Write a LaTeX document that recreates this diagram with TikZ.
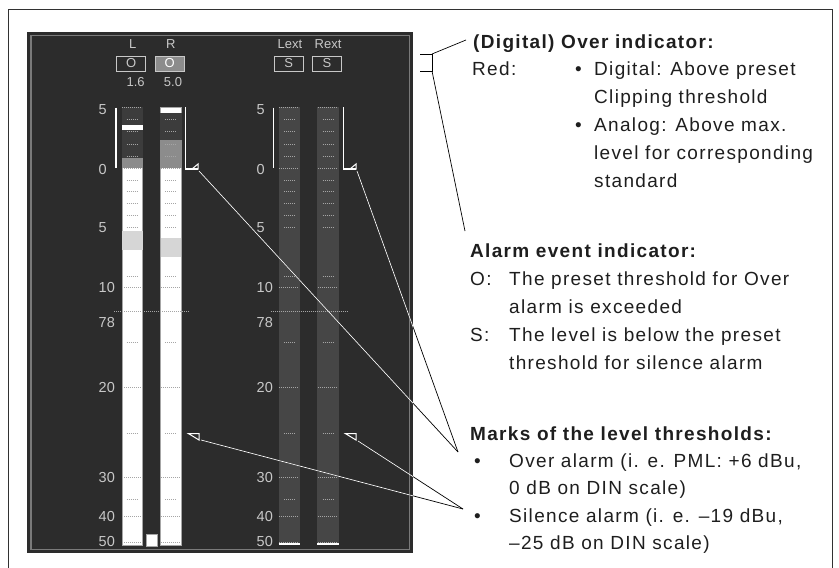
\documentclass[tikz,border=0pt]{standalone}
\usepackage{fontspec}
\setmainfont{Liberation Sans}[LetterSpace=7]
\newfontfamily\scrfont{Liberation Sans}
\definecolor{screen}{RGB}{44,44,44}
\definecolor{rim}{RGB}{122,122,122}
\definecolor{bardark}{RGB}{60,60,60}
\definecolor{barext}{RGB}{70,70,70}
\definecolor{overgray}{RGB}{140,140,140}
\definecolor{patch}{RGB}{214,214,214}
\definecolor{scaletxt}{RGB}{200,200,200}
\definecolor{tickgray}{RGB}{165,165,165}
\definecolor{frame}{RGB}{50,50,50}
\definecolor{ink}{RGB}{30,30,30}

\begin{document}
\begin{tikzpicture}[x=1pt,y=-1pt,
  txt/.style={anchor=base west,inner sep=0pt,text=ink,font=\fontsize{19}{23}\selectfont},
  hdr/.style={txt,font=\fontsize{19}{23}\selectfont\bfseries},
  scl/.style={anchor=west,inner sep=0pt,text=scaletxt,font=\scrfont\fontsize{14.5}{14}\selectfont},
  chan/.style={inner sep=0pt,text=scaletxt,font=\scrfont\fontsize{13}{13}\selectfont},
  ind/.style={draw=scaletxt,line width=1pt,minimum width=29pt,minimum height=15pt,inner sep=0pt,text=scaletxt,font=\scrfont\fontsize{13}{13}\selectfont},
  dottick/.style={tickgray,line width=0.8pt,dash pattern=on 1pt off 1pt},
  markline/.style={white,line width=1.5pt},
  lead/.style={line width=0.7pt}]
\useasboundingbox (0,0) rectangle (839,568);
\draw[frame,line width=0.8pt] (8,570) -- (8,9) -- (832,9) -- (832,570);

\fill[screen] (27,32) rectangle (413,553);
\draw[rim,line width=1.5pt] (31,35.5) rectangle (409.5,549.5);

\fill[white,draw=gray!70] (122,107.3) rectangle (142.5,545);
\fill[bardark] (122,107.3) rectangle (142.5,158.3);
\fill[overgray] (122,158.3) rectangle (142.5,168.3);
\fill[white] (122,125) rectangle (142.5,129.5);
\fill[patch] (122,230.7) rectangle (142.5,250);
\fill[white,draw=gray!70] (160,107.3) rectangle (181.5,545);
\fill[bardark] (160,113.3) rectangle (181.5,140);
\fill[overgray] (160,140) rectangle (181.5,168.3);
\fill[patch] (161,237.7) rectangle (180.5,257.3);
\fill[barext] (278.7,107.3) rectangle (300,545);
\fill[barext] (317.3,107.3) rectangle (338.7,545);
\fill[white,draw=gray!70] (145.7,534) rectangle (157.3,546);

\foreach \cx in {132.2,170.8,289.3,328} {
  \foreach \y in {119.3,131.7,144,156,180,191.7,203.3,215.7,227.7,276.7,342.3,433.3,499.3}
    \draw[dottick] (\cx-5.5,\y) -- (\cx+5.5,\y);
  \foreach \y in {107.3,168.3,287.3,387.3,477.3,516.7,542.7}
    \draw[dottick] (\cx-10,\y) -- (\cx+10,\y);
}
\draw[dottick] (114,311.7) -- (190,311.7);
\draw[dottick] (270.7,311.7) -- (347.3,311.7);
\draw[markline] (278.7,544) -- (300,544);
\draw[markline] (317.3,544) -- (338.7,544);

\foreach \sx/\g in {98.5/a,256.5/b} {
  \foreach \v/\y in {5/110,0/170,5/227.7,10/287.3,78/322.7,20/387.3,30/477.3,40/516.7,50/541.7}
    \node[scl] (s\g\v\y) at (\sx,\y) {\v};
}

\node[chan] (labL) at (132.7,44) {L};
\node[chan] (labR) at (170.7,44) {R};
\node[chan] (labLx) at (290,44) {Lext};
\node[chan] (labRx) at (328,44) {Rext};
\node[ind] (indL) at (131.3,63.5) {O};
\node[ind,fill=overgray,text=white] (indR) at (169.7,63.5) {O};
\node[ind] (indLx) at (288.7,63.5) {S};
\node[ind] (indRx) at (327,63.5) {S};
\node[chan] (valL) at (135.6,82) {1.6};
\node[chan] (valR) at (173,82) {5.0};

\draw[markline] (116,107.7) -- (116,168.3);
\draw[markline] (185.7,107.3) -- (185.7,169) -- (198,169);
\draw[white,line width=1pt] (192,169) -- (198,164) -- (198,169) -- cycle;
\draw[markline] (273.3,107.7) -- (273.3,168.3);
\draw[markline] (343.3,107.3) -- (343.3,169) -- (356,169);
\draw[white,line width=1pt] (350,169) -- (356,164) -- (356,169) -- cycle;
\draw[white,line width=1pt] (188.3,433.5) -- (199,433.5) -- (199,440) -- cycle;
\draw[white,line width=1pt] (345.3,433.5) -- (356,433.5) -- (356,440) -- cycle;

\coordinate (ovL) at (199,171);
\coordinate (ovR) at (357,171);
\coordinate (ovEnd) at (458,452);
\coordinate (siL) at (201,440);
\coordinate (siR) at (358,441);
\coordinate (siEnd) at (463,509);
\coordinate (brTop) at (432,54);
\coordinate (brBot) at (432,71);
\coordinate (hdrEnd) at (466,40);
\coordinate (almEnd) at (465,231);

\draw[lead] (420,54) -- (brTop) -- (brBot) -- (420,71);
\draw[lead] (brTop) -- (hdrEnd);
\draw[lead] (brBot) -- (almEnd);
\foreach \a/\b in {ovL/ovEnd,ovR/ovEnd,siL/siEnd,siR/siEnd}
  \draw[lead] (\a) -- (\b);
\begin{scope}
  \clip (27,32) rectangle (413,553);
  \foreach \a/\b in {ovL/ovEnd,ovR/ovEnd,siL/siEnd,siR/siEnd}
    \draw[lead,white] (\a) -- (\b);
\end{scope}

\node[hdr] (over) at (473,48) {(Digital) Over indicator:};
\node[txt] (red) at (472,75) {Red:};
\node[txt] (b1) at (575,75) {•};
\node[txt] (dig1) at (594,75) {Digital: Above preset};
\node[txt] (dig2) at (594,103) {Clipping threshold};
\node[txt] (b2) at (575,131) {•};
\node[txt] (ana1) at (594,131) {Analog: Above max.};
\node[txt] (ana2) at (594,159) {level for corresponding};
\node[txt] (ana3) at (594,187) {standard};

\node[hdr] (alarm) at (470,257) {Alarm event indicator:};
\node[txt] (oKey) at (470,285) {O:};
\node[txt] (o1) at (509,285) {The preset threshold for Over};
\node[txt] (o2) at (509,313) {alarm is exceeded};
\node[txt] (sKey) at (470,341) {S:};
\node[txt] (s1) at (509,341) {The level is below the preset};
\node[txt] (s2) at (509,369) {threshold for silence alarm};

\node[hdr] (marks) at (470,440) {Marks of the level thresholds:};
\node[txt] (b3) at (474,467) {•};
\node[txt] (m1) at (509,467) {Over alarm (i. e. PML: +6 dBu,};
\node[txt] (m2) at (509,494.5) {0 dB on DIN scale)};
\node[txt] (b4) at (474,522) {•};
\node[txt] (m3) at (509,522) {Silence alarm (i. e. –19 dBu,};
\node[txt] (m4) at (509,549.5) {–25 dB on DIN scale)};
\end{tikzpicture}
\end{document}
